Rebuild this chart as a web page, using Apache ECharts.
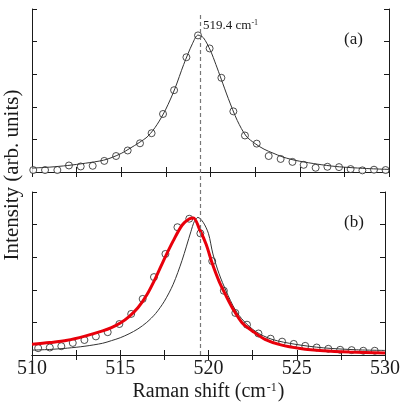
<!DOCTYPE html>
<html>
<head>
<meta charset="utf-8">
<script src="https://cdn.jsdelivr.net/npm/echarts@6/dist/echarts.min.js"></script>
<style>
  html, body { margin: 0; padding: 0; background: #fff; }
  #chart { width: 403px; height: 418px; }
</style>
</head>
<body>
<div id="chart"></div>
<script>
// (a) measured points
const xA = [510.07, 510.73, 511.42, 512.07, 512.73, 513.40, 514.05, 514.71, 515.36, 516.05, 516.70, 517.34, 517.96, 518.65, 519.30, 519.95,
  520.61, 521.28, 521.93, 522.59, 523.26, 523.93, 524.59, 525.22, 525.89, 526.55, 527.20, 527.85, 528.51, 529.16, 529.81];
const yA = [0.06, 0.06, 0.06, 0.20, 0.17, 0.19, 0.34, 0.49, 0.66, 0.88, 1.19, 1.78, 2.51, 3.52, 4.19, 3.79,
  2.89, 1.86, 1.12, 0.87, 0.49, 0.40, 0.31, 0.22, 0.13, 0.16, 0.15, 0.09, 0.05, 0.07, 0.06];
// (a) fit curve
const fitAX = [510, 511, 512, 513, 514, 514.5, 515, 515.5, 516, 516.5, 517, 517.5, 518, 518.5, 519, 519.3, 519.6,
  520, 520.3, 520.6, 521, 521.5, 522, 522.5, 523, 523.5, 524, 524.5, 525, 526, 527, 528, 529, 530];
const fitAY = [0.12, 0.15, 0.2, 0.27, 0.36, 0.45, 0.57, 0.73, 0.9, 1.1, 1.45, 1.93, 2.55, 3.3, 3.95, 4.2, 4.12,
  3.72, 3.3, 2.85, 2.25, 1.58, 1.1, 0.87, 0.7, 0.58, 0.47, 0.39, 0.33, 0.24, 0.17, 0.13, 0.1, 0.08];

// (b) measured points
const xB = [510.35, 511.01, 511.66, 512.31, 512.97, 513.62, 514.29, 514.95, 515.62, 516.27, 516.91, 517.56, 518.24, 518.91, 519.54,
  520.21, 520.87, 521.52, 522.18, 522.83, 523.52, 524.17, 524.83, 525.48, 526.13, 526.79, 527.46, 528.11, 528.77, 529.42];
const yB = [0.21, 0.23, 0.27, 0.37, 0.46, 0.57, 0.70, 0.95, 1.26, 1.72, 2.39, 3.10, 3.92, 4.18, 3.73,
  2.88, 1.97, 1.29, 0.93, 0.66, 0.50, 0.41, 0.34, 0.28, 0.23, 0.19, 0.16, 0.15, 0.13, 0.13];
// (b) red fit
const redX = [510, 511, 512, 513, 514, 514.5, 515, 515.5, 516, 516.5, 517, 517.5, 518, 518.5, 518.9, 519.15, 519.5, 519.87,
  520.2, 520.6, 521, 521.4, 521.9, 522.5, 523.2, 524.1, 525.2, 526.5, 528, 530];
const redY = [0.33, 0.38, 0.45, 0.58, 0.74, 0.84, 0.98, 1.18, 1.45, 1.84, 2.36, 2.95, 3.5, 3.98, 4.17, 4.2, 3.85, 3.39,
  2.83, 2.26, 1.81, 1.40, 0.99, 0.73, 0.48, 0.31, 0.20, 0.13, 0.09, 0.06];
// (b) thin black reference curve
const blkX = [510, 511, 512, 513, 514, 514.5, 515, 515.5, 516, 516.5, 517, 517.5, 518, 518.5, 519, 519.2, 519.4,
  519.7, 520, 520.25, 520.6, 521, 521.5, 522, 522.7, 523.6, 524.9, 526.5, 528.4, 530];
const blkY = [0.15, 0.17, 0.21, 0.27, 0.36, 0.44, 0.53, 0.65, 0.8, 1.0, 1.27, 1.65, 2.17, 2.9, 3.78, 4.1, 4.22,
  4.07, 3.72, 3.1, 2.49, 1.96, 1.40, 1.04, 0.71, 0.48, 0.33, 0.22, 0.16, 0.14];

const peakPos = 519.4;
const xTicks = [510, 515, 520, 525, 530];

const zip = (xs, ys) => xs.map((x, i) => [x, ys[i]]);
const FONT = "'Liberation Serif', 'Times New Roman', serif";
const INK = '#1a1a1a';

function xAx(grid, pos, labels) {
  return {
    type: 'value', gridIndex: grid, position: pos,
    min: xTicks[0], max: xTicks[xTicks.length - 1], interval: 5,
    axisLine: { show: true, lineStyle: { color: INK, width: 1 } },
    axisTick: { show: true, inside: true, length: 5, lineStyle: { color: INK } },
    minorTick: { show: true, splitNumber: 2, length: 5, lineStyle: { color: INK } },
    splitLine: { show: false },
    axisLabel: labels ? { show: true, fontSize: 20, fontFamily: FONT, color: INK, margin: 4 } : { show: false },
    name: labels ? 'Raman shift (cm{s|-1})' : '',
    nameLocation: 'middle', nameGap: 27,
    nameTextStyle: {
      fontSize: 20, fontFamily: FONT, color: INK,
      rich: { s: { fontSize: 12, fontFamily: FONT, color: INK, verticalAlign: 'top', padding: [0, 1, 0, 1] } }
    }
  };
}
function yAx(grid, pos) {
  return {
    type: 'value', gridIndex: grid, position: pos, min: 0, max: 5, interval: 1,
    axisLine: { show: true, lineStyle: { color: INK, width: 1 } },
    axisTick: { show: true, inside: true, length: 5, lineStyle: { color: INK } },
    splitLine: { show: false },
    axisLabel: { show: false }
  };
}

const chart = echarts.init(document.getElementById('chart'));
chart.setOption({
  backgroundColor: '#fff',
  animation: false,
  grid: [
    { left: 32, right: 14, top: 9, height: 163 },
    { left: 32, right: 14, top: 192, height: 163 },
    { left: 32, right: 14, top: 13, height: 342 }
  ],
  xAxis: [
    xAx(0, 'bottom', false), xAx(0, 'top', false),
    xAx(1, 'bottom', true), xAx(1, 'top', false),
    { type: 'value', gridIndex: 2, min: 510, max: 530, show: false }
  ],
  yAxis: [
    yAx(0, 'left'), yAx(0, 'right'),
    yAx(1, 'left'), yAx(1, 'right'),
    { type: 'value', gridIndex: 2, min: 0, max: 1, show: false }
  ],
  series: [
    {
      type: 'line', xAxisIndex: 4, yAxisIndex: 4, data: [],
      markLine: {
        silent: true, symbol: 'none', label: { show: false },
        lineStyle: { type: [4, 3], color: '#777', width: 1.2 },
        data: [{ xAxis: peakPos }]
      }
    },
    {
      type: 'line', xAxisIndex: 0, yAxisIndex: 0, data: zip(fitAX, fitAY),
      smooth: 0.3, symbol: 'none', lineStyle: { color: '#333', width: 1 }
    },
    {
      type: 'scatter', xAxisIndex: 0, yAxisIndex: 0, data: zip(xA, yA),
      symbol: 'circle', symbolSize: 7,
      itemStyle: { color: '#fff', borderColor: '#222', borderWidth: 1 }
    },
    {
      type: 'line', xAxisIndex: 2, yAxisIndex: 2, data: zip(blkX, blkY),
      smooth: 0.3, symbol: 'none', lineStyle: { color: '#333', width: 1 }
    },
    {
      type: 'line', xAxisIndex: 2, yAxisIndex: 2, data: zip(redX, redY),
      smooth: 0.3, symbol: 'none', lineStyle: { color: '#e8000b', width: 3 }
    },
    {
      type: 'scatter', xAxisIndex: 2, yAxisIndex: 2, data: zip(xB, yB),
      symbol: 'circle', symbolSize: 7,
      itemStyle: { color: '#fff', borderColor: '#222', borderWidth: 1 }
    }
  ],
  graphic: [
    {
      type: 'text', left: 203, top: 19,
      style: {
        text: '519.4 cm{s|-1}', fontSize: 13, fontFamily: FONT, fill: INK,
        rich: { s: { fontSize: 8, fontFamily: FONT, fill: INK, verticalAlign: 'top' } }
      }
    },
    { type: 'text', left: 344, top: 31, style: { text: '(a)', fontSize: 17, fontFamily: FONT, fill: INK } },
    { type: 'text', left: 344, top: 214, style: { text: '(b)', fontSize: 17, fontFamily: FONT, fill: INK } },
    {
      type: 'text', x: 12, y: 175, rotation: Math.PI / 2,
      style: {
        text: 'Intensity (arb. units)', fontSize: 21, fontFamily: FONT, fill: INK,
        align: 'center', verticalAlign: 'middle'
      }
    }
  ]
});
</script>
</body>
</html>
